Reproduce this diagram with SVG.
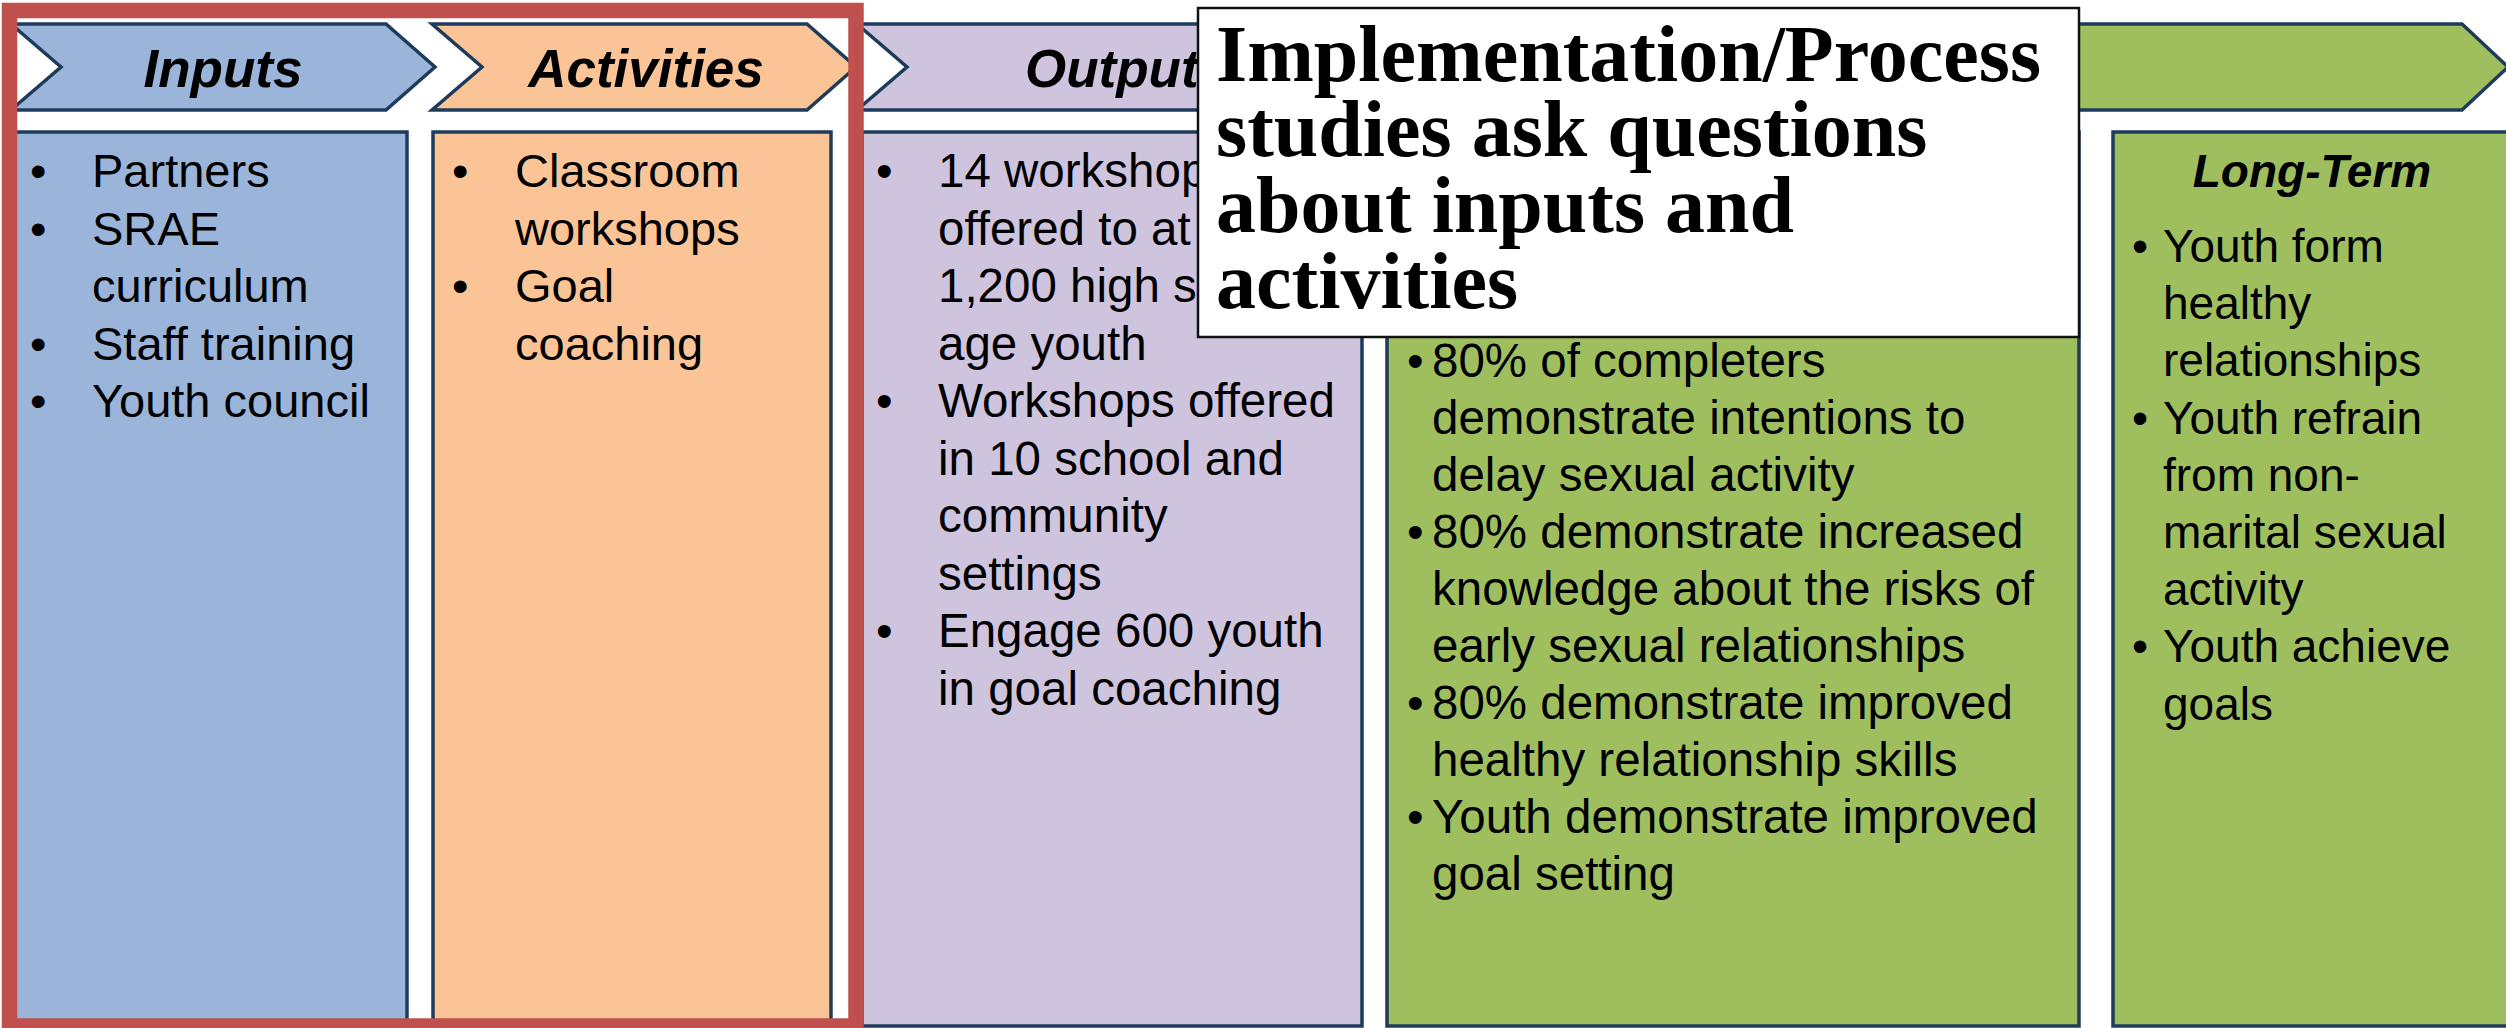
<svg xmlns="http://www.w3.org/2000/svg" width="2506" height="1028" viewBox="0 0 2506 1028">
<style>
.sh{stroke:#1F3B5C;stroke-width:3.5;stroke-linejoin:miter}
.blue{fill:#9BB5DA}.orange{fill:#FBC496}.purple{fill:#CEC4DE}.green{fill:#9FBF5F}
.hd{font-family:"Liberation Sans",Arial,sans-serif;font-weight:bold;font-style:italic;font-size:53px;fill:#000}
.tx{font-family:"Liberation Sans",Arial,sans-serif;font-size:47px;fill:#000}
.tg{font-family:"Liberation Sans",Arial,sans-serif;font-size:47.5px;fill:#000}
.lt{font-family:"Liberation Sans",Arial,sans-serif;font-size:46px;fill:#000}
.call{font-family:"Liberation Serif","Times New Roman",serif;font-weight:bold;font-size:80px;fill:#000}
</style>
<rect width="2506" height="1028" fill="#FFFFFF"/>

<g id="inputs">
<polygon class="sh blue" points="11,24 386,24 435,67 386,110 11,110 61,67"/>
<text class="hd" x="223" y="87" text-anchor="middle">Inputs</text>
<rect class="sh blue" x="14" y="132" width="393" height="894"/>
<g class="tx">
<text x="30" y="187">•</text><text x="92" y="187">Partners</text>
<text x="30" y="244.5">•</text><text x="92" y="244.5">SRAE</text>
<text x="92" y="302">curriculum</text>
<text x="30" y="359.5">•</text><text x="92" y="359.5">Staff training</text>
<text x="30" y="417">•</text><text x="92" y="417">Youth council</text>
</g>
</g>

<g id="activities">
<polygon class="sh orange" points="432,24 807,24 856,67 807,110 432,110 482,67"/>
<text class="hd" x="646" y="87" text-anchor="middle">Activities</text>
<rect class="sh orange" x="433" y="132" width="398" height="894"/>
<g class="tx">
<text x="452" y="187">•</text><text x="515" y="187">Classroom</text>
<text x="515" y="244.5">workshops</text>
<text x="452" y="302">•</text><text x="515" y="302">Goal</text>
<text x="515" y="359.5">coaching</text>
</g>
</g>

<g id="outputs">
<polygon class="sh purple" points="857,24 1330,24 1379,67 1330,110 857,110 907,67"/>
<text class="hd" x="1025" y="87">Output</text>
<rect class="sh purple" x="862" y="132" width="500" height="894"/>
<g class="tg">
<text x="876" y="187">•</text><text x="938" y="187">14 workshop</text>
<text x="938" y="244.5">offered to at</text>
<text x="938" y="302">1,200 high s</text>
<text x="938" y="359.5">age youth</text>
<text x="876" y="417">•</text><text x="938" y="417">Workshops offered</text>
<text x="938" y="474.5">in 10 school and</text>
<text x="938" y="532">community</text>
<text x="938" y="589.5">settings</text>
<text x="876" y="647">•</text><text x="938" y="647">Engage 600 youth</text>
<text x="938" y="704.5">in goal coaching</text>
</g>
</g>

<g id="outcomes-header">
<polygon class="sh green" points="1372,24 2462,24 2508,67 2462,110 1372,110 1422,67"/>
</g>

<g id="short-term">
<rect class="sh green" x="1387" y="132" width="692" height="894"/>
<g class="tg">
<text x="1407" y="377">•</text><text x="1432" y="377">80% of completers</text>
<text x="1432" y="434">demonstrate intentions to</text>
<text x="1432" y="491">delay sexual activity</text>
<text x="1407" y="548">•</text><text x="1432" y="548">80% demonstrate increased</text>
<text x="1432" y="605">knowledge about the risks of</text>
<text x="1432" y="662">early sexual relationships</text>
<text x="1407" y="719">•</text><text x="1432" y="719">80% demonstrate improved</text>
<text x="1432" y="776">healthy relationship skills</text>
<text x="1407" y="833">•</text><text x="1432" y="833">Youth demonstrate improved</text>
<text x="1432" y="890">goal setting</text>
</g>
</g>

<g id="long-term">
<rect class="sh green" x="2113" y="132" width="420" height="894"/>
<text class="hd" x="2312" y="187" text-anchor="middle" style="font-size:46px">Long-Term</text>
<g class="lt">
<text x="2132" y="262">•</text><text x="2163" y="262">Youth form</text>
<text x="2163" y="319">healthy</text>
<text x="2163" y="376">relationships</text>
<text x="2132" y="434">•</text><text x="2163" y="434">Youth refrain</text>
<text x="2163" y="491">from non-</text>
<text x="2163" y="548">marital sexual</text>
<text x="2163" y="605">activity</text>
<text x="2132" y="662">•</text><text x="2163" y="662">Youth achieve</text>
<text x="2163" y="720">goals</text>
</g>
</g>

<g id="callout">
<rect x="1198" y="8" width="881" height="329" fill="#FFFFFF" stroke="#111111" stroke-width="2.5"/>
<g class="call">
<text x="1216" y="80.5">Implementation/Process</text>
<text x="1216" y="156.3">studies ask questions</text>
<text x="1216" y="232">about inputs and</text>
<text x="1216" y="307.8">activities</text>
</g>
</g>

<g id="highlight-frame">
<rect x="9.5" y="10.5" width="846.5" height="1015.5" fill="none" stroke="#C0504D" stroke-width="15.5"/>
</g>
<g id="connectors"/>
</svg>
